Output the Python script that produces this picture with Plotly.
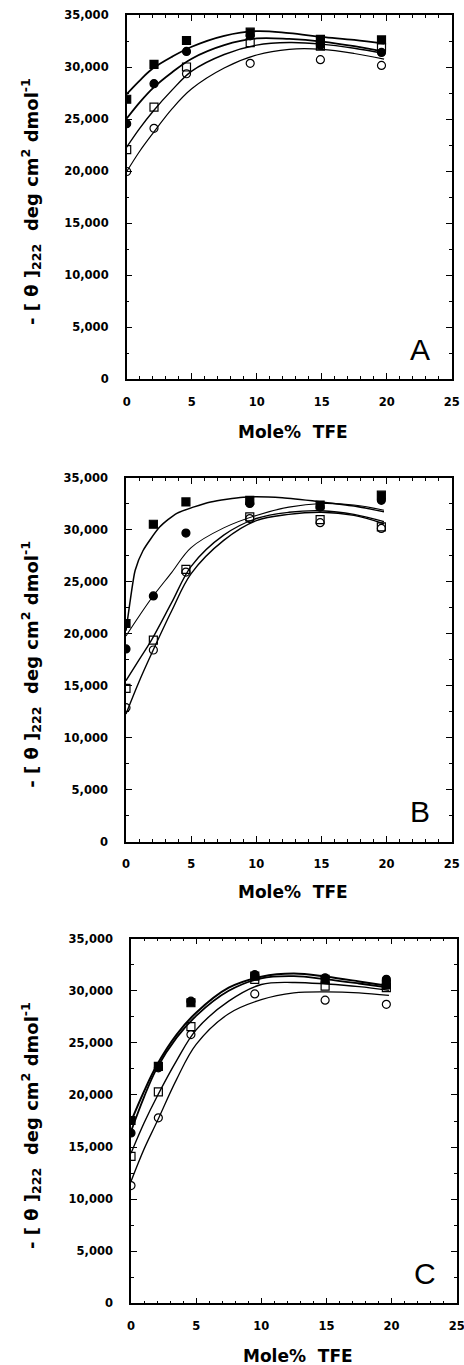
import plotly.graph_objects as go

W, H = 464, 1365

# ---------------- data ----------------
x_tfe = [0, 2.1, 4.6, 9.5, 14.9, 19.6]

# Panel A measured points
A_fsq = [26900, 30250, 32550, 33350, 32650, 32600]
A_fci = [24550, 28400, 31500, 33000, 32100, 31400]
A_osq = [22050, 26150, 30000, 32350, 32000, 31900]
A_oci = [19950, 24100, 29350, 30350, 30700, 30150]

# Panel B measured points
B_fsq = [21000, 30550, 32700, 32850, 32400, 33350]
B_fci = [18550, 23650, 29700, 32550, 32200, 32850]
B_osq = [14750, 19400, 26200, 31250, 31000, 30300]
B_oci = [12900, 18450, 25950, 31100, 30700, 30150]

# Panel C measured points
C_fsq = [17550, 22750, 28850, 31400, 31100, 30600]
C_fci = [16350, 22600, 29000, 31550, 31250, 31100]
C_osq = [14100, 20300, 26550, 31100, 30450, 30300]
C_oci = [11300, 17800, 25800, 29700, 29100, 28700]

# fitted curves
cx = [0, 1, 2, 3.5, 5, 7.5, 10, 12.5, 15, 17.5, 19.8]
A_c1 = [27400, 28700, 29850, 31000, 31950, 33000, 33450, 33250, 32900, 32600, 32250]
A_c2 = [25050, 26600, 27950, 29500, 30800, 32100, 32750, 32700, 32450, 32000, 31450]
A_c3 = [22300, 24100, 25700, 27800, 29600, 31200, 32100, 32350, 32200, 31800, 31300]
A_c4 = [19950, 21900, 23600, 26000, 27900, 29900, 31150, 31700, 31700, 31300, 30750]

B_c1x = [0, 0.3, 0.7, 1.3, 2.6, 3.9, 6.5, 9, 12, 15, 17.5, 19.8]
B_c1 = [20300, 23000, 26100, 28000, 30300, 31600, 32700, 33150, 33100, 32700, 32300, 31750]
B_c2 = [19800, 21700, 23500, 25900, 28300, 30200, 31400, 32200, 32550, 32400, 31900]
B_c3 = [15500, 17500, 19500, 23000, 26500, 29500, 31100, 31700, 31850, 31500, 30800]
B_c4 = [12300, 15400, 18200, 22200, 25800, 29000, 30900, 31500, 31700, 31400, 30600]

C_c1 = [17450, 20350, 22900, 25800, 27900, 30300, 31350, 31650, 31350, 30900, 30450]
C_c2 = [16500, 19800, 22600, 25500, 27600, 30000, 31200, 31400, 31100, 30700, 30300]
C_c3 = [14400, 17300, 19850, 23300, 26250, 29000, 30600, 30800, 30650, 30400, 30050]
C_c4 = [11700, 14800, 17450, 21500, 24850, 27800, 29150, 29800, 29900, 29800, 29550]

panel_letters = ["A", "B", "C"]
x_title = "Mole%  TFE"
y_title = "- [ θ ]<sub>222</sub>  deg cm<sup>2</sup> dmol<sup>-1</sup>"

# ---------------- layout geometry (pixels) ----------------
# (left, right, top, bottom) of each plot frame, and x-title offset below frame
frames = [(126.7, 451.7, 15.0, 379.0, 53),
          (126.0, 451.7, 478.0, 841.7, 50),
          (131.0, 456.7, 938.7, 1303.3, 53)]

fig = go.Figure()

panels = [
    (A_fsq, A_fci, A_osq, A_oci, [(cx, A_c1, 1.8, 1.0), (cx, A_c2, 1.8, 1.0), (cx, A_c3, 1.4, 1.0), (cx, A_c4, 1.2, 1.0)]),
    (B_fsq, B_fci, B_osq, B_oci, [(B_c1x, B_c1, 1.5, 0.6), (cx, B_c2, 1.1, 1.0), (cx, B_c3, 1.4, 1.0), (cx, B_c4, 1.4, 1.0)]),
    (C_fsq, C_fci, C_osq, C_oci, [(cx, C_c1, 2.0, 1.0), (cx, C_c2, 1.8, 1.0), (cx, C_c3, 1.4, 1.0), (cx, C_c4, 1.3, 1.0)]),
]

tick_fam = "DejaVu Sans, sans-serif"
title_fam = "DejaVu Sans, sans-serif"

for i, (fsq, fci, osq, oci, curves) in enumerate(panels):
    sfx = "" if i == 0 else str(i + 1)
    xa, ya = "x" + sfx, "y" + sfx
    for cxv, cyv, lw, sm in curves:
        fig.add_trace(go.Scatter(x=cxv, y=cyv, mode="lines", xaxis=xa, yaxis=ya,
                                 line=dict(color="black", width=lw, shape="spline", smoothing=sm),
                                 showlegend=False, hoverinfo="skip"))
    for yy, sym, sz in [(oci, "circle-open", 8), (osq, "square-open", 8),
                        (fci, "circle", 8), (fsq, "square", 8)]:
        fig.add_trace(go.Scatter(x=x_tfe, y=yy, mode="markers", xaxis=xa, yaxis=ya,
                                 marker=dict(symbol=sym, size=sz, color="black",
                                             line=dict(color="black", width=1.2)),
                                 showlegend=False))

    l, r, t, b, xoff = frames[i]
    common_font = dict(family=tick_fam, size=11.5, color="black", weight="bold")
    fig.layout["xaxis" + sfx] = dict(
        domain=[l / W, r / W], anchor=ya, range=[0, 25], tickvals=[0, 5, 10, 15, 20, 25],
        ticks="inside", ticklen=6, tickwidth=1, tickcolor="black", mirror="ticks",
        showline=True, linecolor="black", linewidth=1.5, showgrid=False, zeroline=False,
        tickfont=common_font, ticklabelstandoff=11, ticklabeloverflow="allow",
        minor=dict(dtick=1, ticks="inside", ticklen=3, tickcolor="black", tickwidth=1),
        automargin=False, fixedrange=True)
    fig.layout["yaxis" + sfx] = dict(
        domain=[1 - b / H, 1 - t / H], anchor=xa, range=[0, 35000], dtick=5000,
        tickformat=",d",
        ticks="inside", ticklen=6, tickwidth=1, tickcolor="black", mirror="ticks",
        showline=True, linecolor="black", linewidth=1.5, showgrid=False, zeroline=False,
        tickfont=common_font, ticklabelstandoff=14,
        minor=dict(dtick=2500, ticks="inside", ticklen=3, tickcolor="black", tickwidth=1),
        automargin=False, fixedrange=True)

    # x-axis title
    fig.add_annotation(text=x_title, xref="paper", yref="paper",
                       x=((l + r) / 2 + 4) / W, y=1 - (b + xoff) / H,
                       showarrow=False, xanchor="center", yanchor="middle",
                       font=dict(family=title_fam, size=17, color="black", weight="bold"))
    # y-axis title
    fig.add_annotation(text=y_title, xref="paper", yref="paper",
                       x=31 / W, y=1 - ((t + b) / 2 + 5) / H, textangle=-90,
                       showarrow=False, xanchor="center", yanchor="middle",
                       font=dict(family=title_fam, size=18, color="black", weight="bold"))
    # panel letter
    fig.add_annotation(text=panel_letters[i], xref="paper", yref="paper",
                       x=(r - 32) / W, y=1 - (b - 30) / H,
                       showarrow=False, xanchor="center", yanchor="middle",
                       font=dict(family="Liberation Sans, Arial, sans-serif", size=30, color="black"))

fig.update_layout(width=W, height=H, margin=dict(l=0, r=0, t=0, b=0),
                  paper_bgcolor="white", plot_bgcolor="white", showlegend=False)

fig.write_html("out.html")
